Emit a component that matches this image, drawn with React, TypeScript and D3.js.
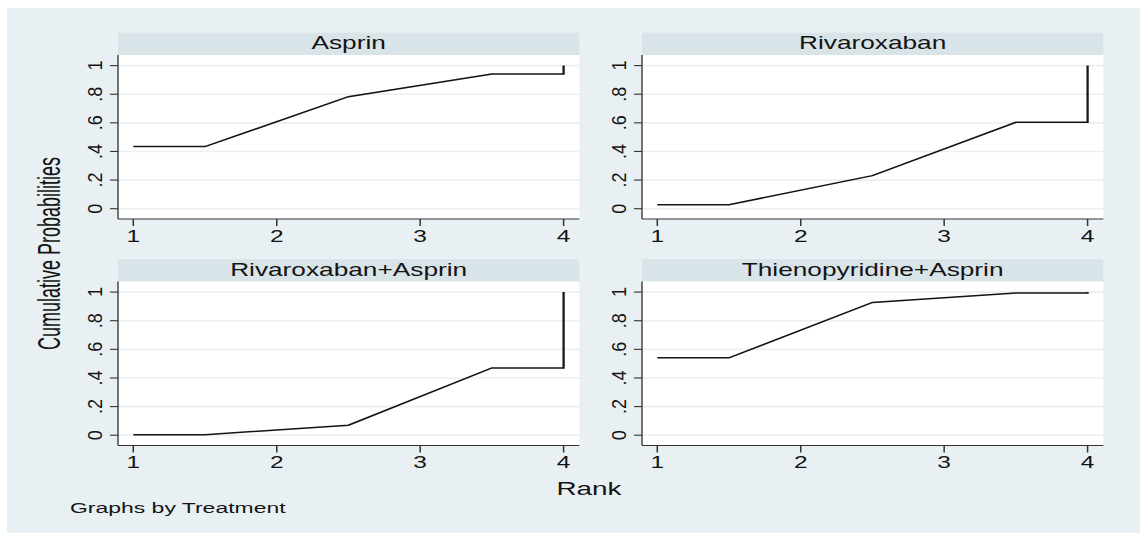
import React from 'react';
import * as d3 from 'd3';

// Cumulative ranking probabilities by treatment
const treatments = ['Asprin', 'Rivaroxaban', 'Rivaroxaban+Asprin', 'Thienopyridine+Asprin'];
const rankPositions = [1, 1.5, 2.5, 3.5, 4, 4];
const asprin = [0.434, 0.434, 0.783, 0.942, 0.942, 1];
const rivaroxaban = [0.028, 0.028, 0.231, 0.604, 0.604, 1];
const rivaroxabanAsprin = [0.003, 0.003, 0.07, 0.47, 0.47, 1];
const thienopyridineAsprin = [0.541, 0.541, 0.928, 0.993, 0.993, 1];
const seriesValues = [asprin, rivaroxaban, rivaroxabanAsprin, thienopyridineAsprin];

const xTicks = [1, 2, 3, 4];
const yTicks = [0, 0.2, 0.4, 0.6, 0.8, 1];
const yTickLabels = ['0', '.2', '.4', '.6', '.8', '1'];

const WIDTH = 1140;
const HEIGHT = 533;
// the whole graph is drawn in a narrower space and widened horizontally
const SX = 1.5;
const u = (v: number) => v / SX;

const FONT = '"Liberation Sans", Arial, Helvetica, sans-serif';
const BG = '#e9f0f3';
const HEADER_BG = '#d9e4e9';
const GRID = '#e8f0f2';
const INK = '#141414';

const colLeft = [118, 642];
const rowTop = [55, 281.5];
const PANEL_W = 461.3;
const PLOT_H = 164;
const HEADER_H = 22.3;

export default function App() {
  const panels = treatments.map((name, i) => {
    const col = i % 2;
    const row = Math.floor(i / 2);
    const L = colLeft[col];
    const R = L + PANEL_W;
    const top = rowTop[row];
    const axisY = top + PLOT_H;
    const x = d3.scaleLinear().domain([1, 4]).range([u(L + 15.3), u(L + 445.6)]);
    const y = d3.scaleLinear().domain([0, 1]).range([top + 153.7, top + 10.6]);
    const pts: [number, number][] = rankPositions.map((r, k) => [r, seriesValues[i][k]]);
    const line = d3
      .line<[number, number]>()
      .x((d) => x(d[0]))
      .y((d) => y(d[1]));
    return { name, L, R, top, axisY, x, y, path: line(pts) || '' };
  });

  return (
    <svg
      width={WIDTH}
      height={HEIGHT}
      style={{ position: 'absolute', left: 0, top: 0, background: '#ffffff' }}
      fontFamily={FONT}
    >
      <g transform={`scale(${SX},1)`}>
        <rect x={u(7)} y={8} width={u(WIDTH - 7)} height={HEIGHT - 8} fill={BG} />
        {panels.map((p) => (
          <g key={p.name}>
            <rect x={u(p.L)} y={p.top - HEADER_H} width={u(PANEL_W)} height={HEADER_H} fill={HEADER_BG} />
            <text
              x={u(p.L + PANEL_W / 2)}
              y={p.top - HEADER_H + 16.6}
              textAnchor="middle"
              fontSize={17.5}
              fill={INK}
            >
              {p.name}
            </text>
            <rect x={u(p.L)} y={p.top} width={u(PANEL_W)} height={PLOT_H} fill="#ffffff" />
            {yTicks.map((t) => (
              <line
                key={`g${t}`}
                x1={u(p.L)}
                x2={u(p.R)}
                y1={p.y(t)}
                y2={p.y(t)}
                stroke={GRID}
                strokeWidth={1.6}
              />
            ))}
            {yTicks.map((t) => (
              <line
                key={`yt${t}`}
                x1={u(p.L - 8)}
                x2={u(p.L)}
                y1={p.y(t)}
                y2={p.y(t)}
                stroke="#333"
                strokeWidth={1.1}
              />
            ))}
            {xTicks.map((t) => (
              <g key={`xt${t}`}>
                <line
                  x1={p.x(t)}
                  x2={p.x(t)}
                  y1={p.axisY}
                  y2={p.axisY + 7}
                  stroke="#333"
                  strokeWidth={1}
                />
                <text x={p.x(t)} y={p.axisY + 22.7} textAnchor="middle" fontSize={16.3} fill={INK}>
                  {t}
                </text>
              </g>
            ))}
            <line x1={u(p.L)} x2={u(p.L)} y1={p.top} y2={p.axisY} stroke="#333" strokeWidth={0.9} />
            <line x1={u(p.L)} x2={u(p.R)} y1={p.axisY} y2={p.axisY} stroke="#333" strokeWidth={1.2} />
            <path d={p.path} fill="none" stroke={INK} strokeWidth={1.5} strokeLinejoin="miter" />
          </g>
        ))}
        <text x={u(589)} y={495} textAnchor="middle" fontSize={18.6} fill={INK}>
          Rank
        </text>
        <text x={u(70)} y={513} fontSize={15.3} fill={INK}>
          Graphs by Treatment
        </text>
      </g>
      {panels.map((p) =>
        yTicks.map((t, k) => (
          <text
            key={`yl${p.name}${t}`}
            transform={`translate(${p.L - 16.5},${p.y(t)}) scale(1.1,1) rotate(-90)`}
            textAnchor="middle"
            fontSize={18}
            fill={INK}
          >
            {yTickLabels[k]}
          </text>
        ))
      )}
      <text
        transform="translate(60,253.5) scale(1.7,1) rotate(-90)"
        textAnchor="middle"
        fontSize={18}
        fill={INK}
      >
        Cumulative Probabilities
      </text>
    </svg>
  );
}
